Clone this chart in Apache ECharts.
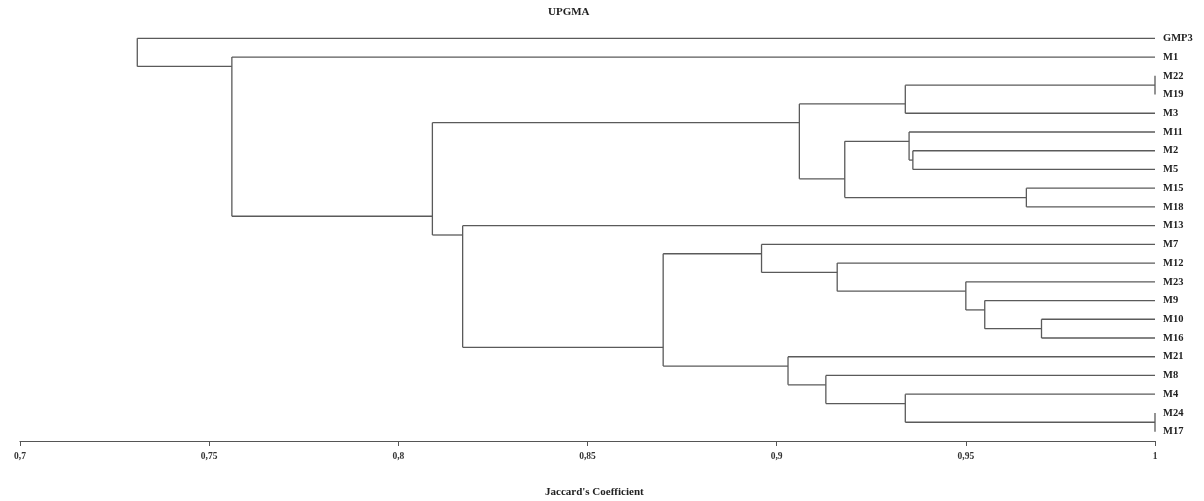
<!DOCTYPE html>
<html>
<head>
<meta charset="utf-8">
<script src="https://cdn.jsdelivr.net/npm/echarts@6/dist/echarts.min.js"></script>
<style>
html,body{margin:0;padding:0;background:#fff;}
#chart{width:1204px;height:501px;}
</style>
</head>
<body>
<div id="chart"></div>
<script>
// Leaf order, top to bottom
const leaves = ['GMP3','M1','M22','M19','M3','M11','M2','M5','M15','M18','M13','M7','M12','M23','M9','M10','M16','M21','M8','M4','M24','M17'];
// Cluster merges: top child, bottom child, Jaccard similarity at the join
const nodeTop    = ['M22','M24','M10','M15','M2','M11','n0','M4','M9','M23','n5','M12','M8','n6','M21','M7','n15','M13','n13','M1','GMP3'];
const nodeBottom = ['M19','M17','M16','M18','M5','n4','M3','n1','n2','n8','n3','n9','n7','n10','n12','n11','n14','n16','n17','n18','n19'];
const nodeSim    = [1.0, 1.0, 0.970, 0.966, 0.936, 0.935, 0.934, 0.934, 0.955, 0.950, 0.918, 0.916, 0.913, 0.906, 0.903, 0.896, 0.870, 0.817, 0.809, 0.756, 0.731];
// Axis ticks
const xTicks = [0.7, 0.75, 0.8, 0.85, 0.9, 0.95, 1];

// Build segments from the tree
const info = {};
leaves.forEach((name, i) => { info[name] = {x: 1.0, y: i, first: i, last: i}; });
const segments = [];
nodeTop.forEach((t, k) => {
  const a = info[t], b = info[nodeBottom[k]];
  const x = nodeSim[k];
  const y = (a.last + b.first) / 2;
  segments.push([a.x, a.y, x, a.y]);
  segments.push([b.x, b.y, x, b.y]);
  segments.push([x, a.y, x, b.y]);
  info['n' + k] = {x: x, y: y, first: a.first, last: b.last};
});

const chart = echarts.init(document.getElementById('chart'), null, {renderer: 'canvas'});
const serif = 'Liberation Serif';
chart.setOption({
  backgroundColor: '#ffffff',
  animation: false,
  grid: {left: 20, right: 49, top: 29, bottom: 60},
  xAxis: {
    type: 'value', min: 0.7, max: 1, interval: 0.05, position: 'bottom',
    axisLine: {show: true, onZero: false, lineStyle: {color: '#555', width: 1.2}},
    axisTick: {show: true, length: 5, lineStyle: {color: '#555', width: 1}},
    splitLine: {show: false},
    axisLabel: {
      margin: 11, color: '#333', fontFamily: serif, fontWeight: 'bold', fontSize: 9.5,
      formatter: v => String(xTicks.find(t => Math.abs(t - v) < 1e-9) ?? v).replace('.', ',')
    }
  },
  yAxis: [
    {type: 'value', min: -0.5, max: leaves.length - 0.5, inverse: true, show: false},
    {
      type: 'category', data: leaves, inverse: true, position: 'right',
      axisLine: {show: false}, axisTick: {show: false}, splitLine: {show: false},
      axisLabel: {margin: 8, color: '#222', fontFamily: serif, fontWeight: 'bold', fontSize: 10.5}
    }
  ],
  series: [{
    type: 'custom',
    xAxisIndex: 0, yAxisIndex: 0,
    data: segments,
    renderItem: function (params, api) {
      const p1 = api.coord([api.value(0), api.value(1)]);
      const p2 = api.coord([api.value(2), api.value(3)]);
      return {
        type: 'line',
        shape: {x1: p1[0], y1: p1[1], x2: p2[0], y2: p2[1]},
        style: {stroke: '#5a5a5a', lineWidth: 1.3}
      };
    },
    silent: true
  }],
  graphic: [
    {type: 'text', left: 548, top: 7, style: {text: 'UPGMA', fill: '#222', font: 'bold 11px "Liberation Serif"', textAlign: 'center'}},
    {type: 'text', left: 545, top: 487, style: {text: "Jaccard's Coefficient", fill: '#222', font: 'bold 11px "Liberation Serif"', textAlign: 'center'}}
  ]
});
</script>
</body>
</html>
